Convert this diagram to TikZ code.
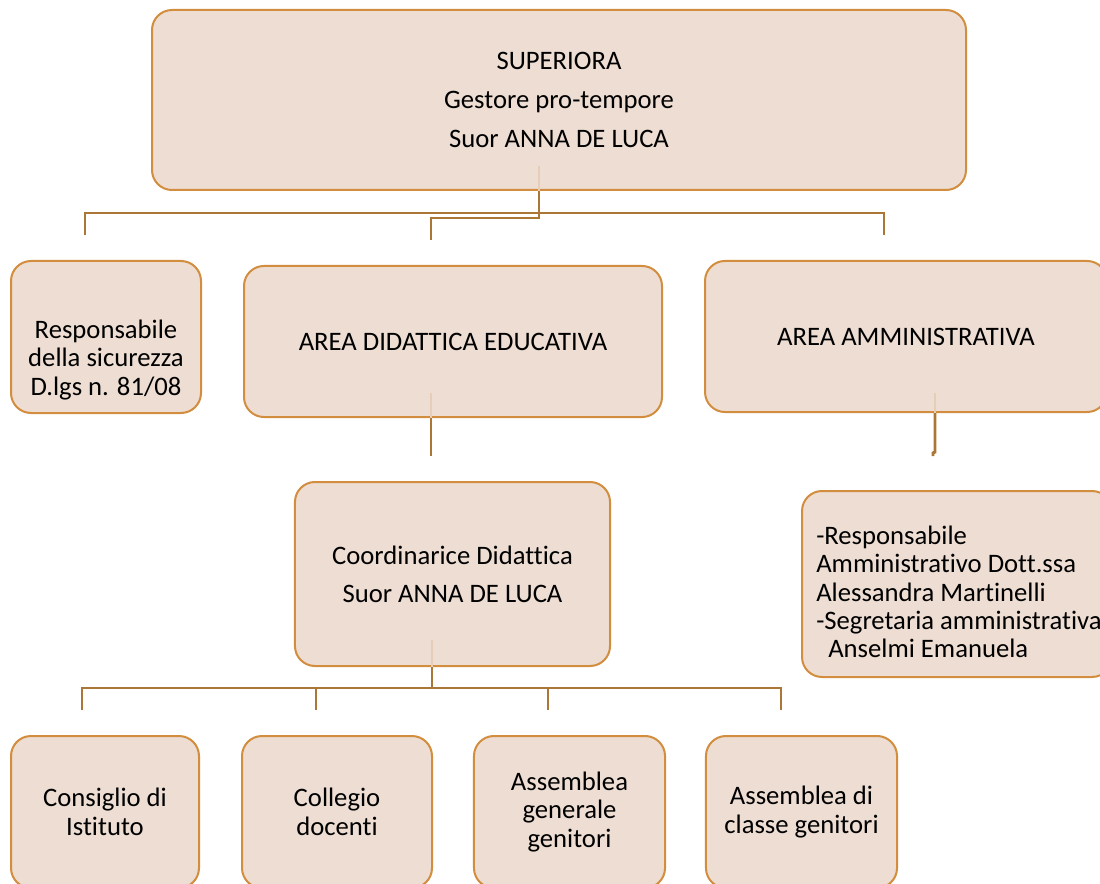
\documentclass[tikz,border=0pt]{standalone}
\usepackage{fontspec}
\setmainfont{Carlito}[Ligatures={NoCommon}]
\usepackage{xcolor}

\definecolor{boxfill}{RGB}{237,221,210}
\definecolor{boxline}{RGB}{210,141,62}
\definecolor{leadline}{RGB}{172,118,54}
\definecolor{leadfaint}{RGB}{229,205,184}

\tikzset{
  unit/.style={draw=boxline, fill=boxfill, line width=1.5pt, rounded corners=15pt,
    align=center, inner sep=0pt, font=\fontsize{20}{21.3}\selectfont},
  unittext/.style={inner sep=0pt, font=\fontsize{20}{21.3}\selectfont},
  lead/.style={draw=leadline, line width=2.2pt},
  faint/.style={draw=leadfaint, line width=2.2pt},
}

\begin{document}
\begin{tikzpicture}[x=0.75pt,y=0.75pt,yscale=-1,xscale=1]
\useasboundingbox (0,0) rectangle (1100,884);

% Top box
\node [unit, minimum width=610.5pt, minimum height=135pt, font=\fontsize{20}{29}\selectfont] (sup) at (559,100)
  {SUPERIORA\\Gestore pro-tempore\\Suor ANNA DE LUCA};

% Second row
\node [unit, minimum width=142.5pt, minimum height=114pt] (resp) at (106,337) {};
\node [unittext, align=center] (resptxt) at (106,360) {Responsabile\\della sicurezza\\D.lgs n. 81/08};
\node [unit, minimum width=313.5pt, minimum height=113.3pt] (did) at (453,341.5) {AREA DIDATTICA EDUCATIVA};
\node [unit, minimum width=301.5pt, minimum height=113.3pt] (amm) at (906,336.5) {AREA AMMINISTRATIVA};

% Third row
\node [unit, minimum width=236.3pt, minimum height=138pt, font=\fontsize{20}{28.5}\selectfont] (coord) at (452.5,574)
  {Coordinarice Didattica\\Suor ANNA DE LUCA};
\node [unit, minimum width=232.5pt, minimum height=139.5pt] (ammstaff) at (957,584) {};
\node [unittext, align=left, anchor=west] (ammtxt) at (816,592)
  {-Responsabile\\Amministrativo Dott.ssa\\Alessandra Martinelli\\-Segretaria amministrativa\\\hspace*{9pt}Anselmi Emanuela};

% Bottom row
\node [unit, minimum width=141pt, minimum height=114pt] (cons) at (105,812) {Consiglio di\\Istituto};
\node [unit, minimum width=142.5pt, minimum height=114pt] (coll) at (337,812) {Collegio\\docenti};
\node [unit, minimum width=143.3pt, minimum height=114pt] (assg) at (569.5,812) {Assemblea\\generale\\genitori};
\node [unit, minimum width=143.3pt, minimum height=114pt] (assc) at (801.5,812) {Assemblea di\\classe genitori};

% Connector ends
\coordinate (supin) at (539,166);
\coordinate (respend) at (85,235);
\coordinate (didend) at (431,240);
\coordinate (ammend) at (884,235);
\coordinate (didin) at (431,393);
\coordinate (didout) at (431,456);
\coordinate (ammin) at (935,393);
\coordinate (ammout) at (933,456);
\coordinate (coordin) at (432,640);

% Connectors
\draw [faint] (supin) -- (supin |- sup.south);
\draw [lead] (supin |- sup.south) -- (539,218) -- (didend |- 0,218) -- (didend);
\draw [lead] (respend) -- (respend |- 0,213) -- (ammend |- 0,213) -- (ammend);
\draw [faint] (didin) -- (didin |- did.south);
\draw [lead] (didin |- did.south) -- (didout);
\draw [faint] (ammin) -- (ammin |- amm.south);
\draw [lead] (ammin |- amm.south) -- (935,452) -- (933,453) -- (ammout);
\draw [faint] (coordin) -- (coordin |- coord.south);
\draw [lead] (coordin |- coord.south) -- (432,688);
\draw [lead] (82,710) -- (82,688) -- (781,688) -- (781,710);
\draw [lead] (316,688) -- (316,710);
\draw [lead] (548,688) -- (548,710);

\end{tikzpicture}
\end{document}
